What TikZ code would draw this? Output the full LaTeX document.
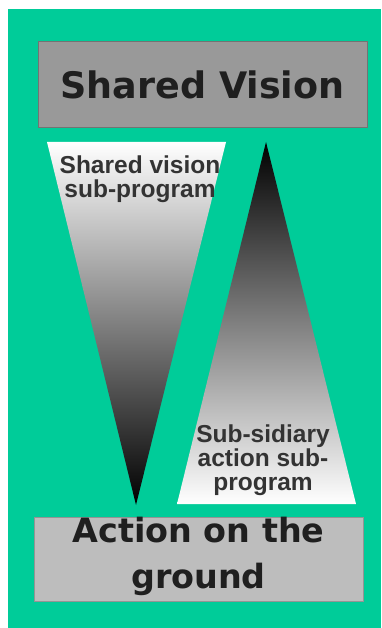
\documentclass[tikz,border=0pt]{standalone}
\usepackage{fontspec}
\setmainfont{Liberation Sans}
\newfontfamily\headfont{DejaVu Sans}
\definecolor{seagreen}{RGB}{0,204,153}

\begin{document}
\begin{tikzpicture}[x=1pt,y=-1pt,
    box/.style={line width=1pt,inner sep=0pt,minimum width=329pt},
    headline/.style={font=\headfont\bfseries\fontsize{36.5}{46}\selectfont,text=black!88},
    sublabel/.style={font=\bfseries\fontsize{24.5}{24}\selectfont,text=black!80,align=center,inner sep=0pt,anchor=base}]
      \useasboundingbox (0,0) rectangle (381,628);
      \fill[seagreen] (8,9) rectangle (381,628);
      % the two funnels
      \shade[top color=white,middle color=black!38,bottom color=black] (47,142) -- (226,142) -- (136,505) -- cycle;
      \shade[top color=black,bottom color=white] (266,142) -- (356,504) -- (177,504) -- cycle;
      % boxes
      \node[box,draw=black!55,fill=black!40,minimum height=86pt,headline] (vision) at (202.5,85) {Shared Vision};
      \node[box,draw=black!42,fill=black!26,minimum height=84pt] (ground) at (198.5,559) {};
      \node[headline,font=\headfont\bfseries\fontsize{33.4}{46}\selectfont,align=center,inner sep=0pt,anchor=base] (groundtext) at (198.5,588) {Action on the\\ground};
      % labels
      \node[sublabel] (visionlabel) at (140,197) {Shared vision\\sub-program};
      \node[sublabel] (actionlabel) at (263,490) {Sub-sidiary\\action sub-\\program};
    \end{tikzpicture}
\end{document}
